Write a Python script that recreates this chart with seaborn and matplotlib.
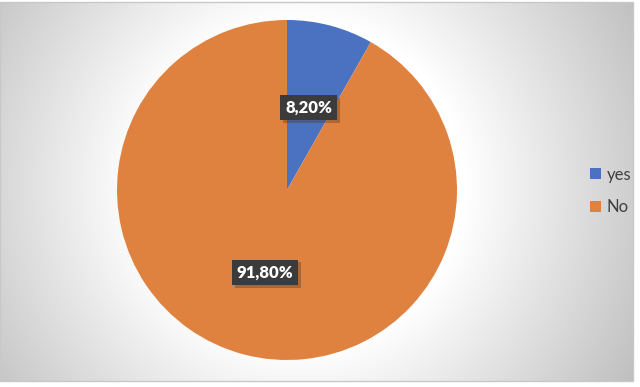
import numpy as np
import matplotlib
matplotlib.use("Agg")
import matplotlib.pyplot as plt
import matplotlib.patheffects as pe
import seaborn as sns

labels = ["yes", "No"]
values = [8.2, 91.8]
colors = ["#4A72C0", "#E0823F"]

sns.set_theme(style="white")
plt.rcParams['font.family'] = ['Lato', 'DejaVu Sans']

W, H = 640, 387
fig = plt.figure(figsize=(W/100, H/100), dpi=100)
fig.patch.set_facecolor("white")

# background radial gradient in the chart frame
bg = fig.add_axes([0, 0, 1, 1])
bg.set_xlim(0, W); bg.set_ylim(H, 0); bg.axis("off")
x0, x1, y0, y1 = 0, 633, 2, 381
yy, xx = np.mgrid[y0:y1, x0:x1]
d = np.hypot(xx - 300, yy - 185)
g = np.clip(255 - 0.29 * np.maximum(0, d - 165), 190, 255) / 255.0
img = np.dstack([g, g, g])
bg.imshow(img, extent=(x0, x1, y1, y0), interpolation="bilinear", aspect="auto")
bg.plot([x0, x1, x1, x0, x0], [y0, y0, y1, y1, y0], color="#c8c8c8", lw=1)

# pie
R = 170
cx, cy = 287, 190
ax = fig.add_axes([(cx - R)/W, (H - cy - R)/H, 2*R/W, 2*R/H])
wedges, texts, autotexts = ax.pie(
    values, colors=colors, startangle=90, counterclock=False,
    autopct=lambda p: f"{p:.2f}%".replace(".", ","), pctdistance=0.5,
    wedgeprops=dict(linewidth=0),
    textprops=dict(color="white", fontsize=12, fontweight="heavy"))
for t in autotexts:
    t.set_bbox(dict(boxstyle="square,pad=0.28", fc="#3b3b3b", ec="none"))
    t.get_bbox_patch().set_path_effects(
        [pe.SimplePatchShadow(offset=(2, -2), shadow_rgbFace=(0.3, 0.2, 0.1), alpha=0.35),
         pe.Normal()])
ax.set_aspect("equal")
ax.set_xlim(-1, 1); ax.set_ylim(-1, 1)
ax.axis("off")

leg = fig.legend(wedges, labels, loc="center left", bbox_to_anchor=(575/W, 1 - 191/H),
                 frameon=False, fontsize=12, handlelength=0.65, handleheight=0.65,
                 labelspacing=1.0, handletextpad=0.35)
for t in leg.get_texts():
    t.set_color("#404040")

fig.savefig("out.png", dpi=100)
